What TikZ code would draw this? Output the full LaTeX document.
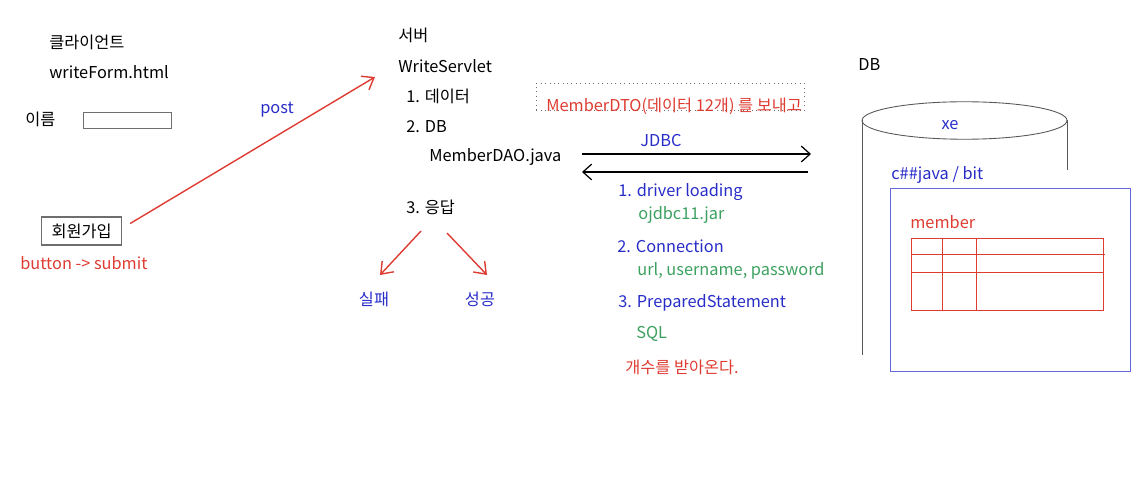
\documentclass[tikz,border=0pt]{standalone}
\usepackage{fontspec}
\setmainfont{Noto Sans CJK KR}
\usetikzlibrary{arrows.meta,positioning,calc}
\definecolor{cBlue}{RGB}{40,45,200}
\definecolor{cRed}{RGB}{222,60,50}
\definecolor{cGreen}{RGB}{60,160,95}
\definecolor{cFrame}{RGB}{100,105,215}
\definecolor{cGray}{RGB}{110,110,110}

\begin{document}
\begin{tikzpicture}[x=0.02cm,y=-0.02cm,font=\fontsize{9.3}{11}\selectfont,
  txt/.style={anchor=west,inner sep=0pt},
  blu/.style={txt,text=cBlue},
  grn/.style={txt,text=cGreen},
  rd/.style={txt,text=cRed},
  redarrow/.style={-{Straight Barb[length=6pt,width=9pt]},draw=cRed,line width=0.8pt},
  jdbc/.style={-{Straight Barb[length=5pt,width=9pt]},line width=0.7pt},
  tbl/.style={draw=cRed,line width=0.5pt},
  cyl/.style={draw=cGray!80!black,line width=0.5pt}]
  \useasboundingbox (0,0) rectangle (1146,479);
  % client side
  \node[txt] (client) at (49,42) {클라이언트};
  \node[txt] (form) at (49,72) {writeForm.html};
  \node[txt] (name) at (25,119) {이름};
  \node[draw=cGray,line width=0.6pt,minimum width=88*0.02cm,minimum height=16*0.02cm,inner sep=0pt,anchor=north west] (input) at (83,112) {};
  \node[draw=cGray,line width=0.6pt,minimum width=80*0.02cm,minimum height=28*0.02cm,inner sep=0pt] (join) at (81.7,231) {회원가입};
  \node[rd] (submit) at (20,263) {button -> submit};
  \node[blu,anchor=center] (post) at (277,110) {post};
  % server side
  \node[txt] (server) at (398,35) {서버};
  \node[txt] (servlet) at (398,66) {WriteServlet};
  \node[txt] (data) at (406,96) {1. 데이터};
  \node[txt] (db2) at (406,127) {2. DB};
  \node[txt] (dao) at (429,157) {MemberDAO.java};
  \node[txt] (resp) at (406,207) {3. 응답};
  \node[blu,anchor=center] (fail) at (374,299) {실패};
  \node[blu,anchor=center] (ok) at (480,299) {성공};
  \coordinate (srvIn) at (375,77);
  \draw[redarrow] (join.north east) ++(8,7) coordinate (joinOut) -- (srvIn);
  \coordinate (respL) at (421,231);
  \coordinate (respR) at (447,233);
  \coordinate (failIn) at (380,275);
  \coordinate (okIn) at (487,275);
  \draw[redarrow] (respL) -- (failIn);
  \draw[redarrow] (respR) -- (okIn);
  % dto note
  \node[draw=cGray,dotted,line width=0.5pt,minimum width=268*0.02cm,minimum height=27*0.02cm,inner sep=0pt,anchor=north west] (dtobox) at (536,83) {};
  \node[rd] (dto) at (546,106) {MemberDTO(데이터 12개) 를 보내고};
  % jdbc
  \node[blu,anchor=center] (jdbcLbl) at (661,141) {JDBC};
  \coordinate (daoR) at (582,154);
  \coordinate (dbL) at (811,154);
  \coordinate (dbL2) at (808,172);
  \coordinate (daoR2) at (582,172);
  \draw[jdbc] (daoR) -- (dbL);
  \draw[jdbc] (dbL2) -- (daoR2);
  \node[blu] (step1) at (618,192) {1. driver loading};
  \node[grn] (jar) at (638,215) {ojdbc11.jar};
  \node[blu] (step2) at (617,246) {2. Connection};
  \node[grn] (conn) at (637,271) {url, username, password};
  \node[blu] (step3) at (618,303) {3. PreparedStatement};
  \node[grn] (sql) at (636,334) {SQL};
  \node[rd] (count) at (625,367) {개수를 받아온다.};
  % database
  \node[txt] (dbLbl) at (858,65) {DB};
  \draw[cyl] (964.5,120.5) ellipse [x radius=2.05cm,y radius=0.375cm];
  \draw[cyl] (862,120.5) -- (862,355);
  \draw[cyl] (1067,120.5) -- (1067,170);
  \node[blu,anchor=center] (xe) at (950,125) {xe};
  \node[blu] (user) at (891,175) {c\#\#java / bit};
  \node[draw=cFrame,line width=0.6pt,fill=white,minimum width=240*0.02cm,minimum height=183*0.02cm,inner sep=0pt,anchor=north west] (schema) at (890,188) {};
  \node[rd] (member) at (910,222) {member};
  % member table
  \draw[tbl] (911,238) rectangle (1103,310);
  \draw[tbl] (911,254) -- (1105,254);
  \draw[tbl] (911,272) -- (1103,272);
  \draw[tbl] (942,238) -- (942,310);
  \draw[tbl] (976,238) -- (976,310);
\end{tikzpicture}
\end{document}
